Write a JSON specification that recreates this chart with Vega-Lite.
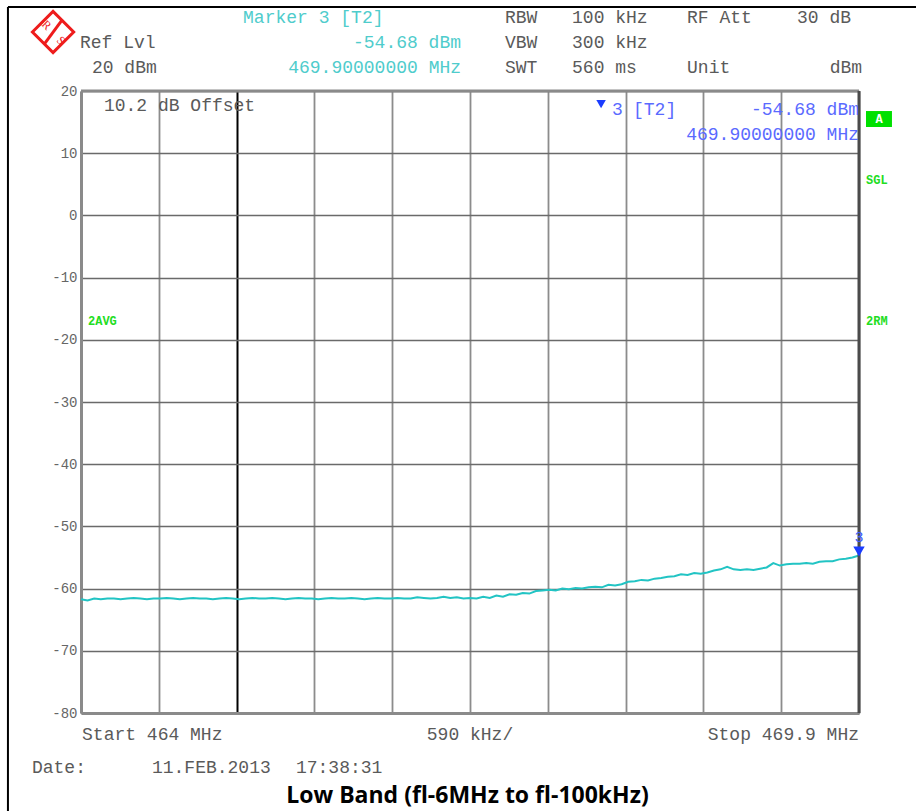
{
  "$schema": "https://vega.github.io/schema/vega-lite/v6.json",
  "width": 778,
  "height": 622,
  "autosize": {"type": "none"},
  "padding": {"left": 81, "top": 91, "right": 57, "bottom": 98},
  "background": "white",
  "config": {
    "view": {"stroke": null},
    "text": {"font": "Liberation Mono", "fontSize": 18, "baseline": "middle", "align": "left", "color": "#5a5a5a"}
  },
  "data": {"values": [{}]},
  "datasets": {
    "trace": [
      {"f": 464.00, "level": -61.7}, {"f": 464.05, "level": -61.9}, {"f": 464.10, "level": -61.6}, {"f": 464.15, "level": -61.7},
      {"f": 464.20, "level": -61.6}, {"f": 464.25, "level": -61.6}, {"f": 464.30, "level": -61.7}, {"f": 464.35, "level": -61.6},
      {"f": 464.40, "level": -61.5}, {"f": 464.45, "level": -61.6}, {"f": 464.50, "level": -61.7}, {"f": 464.55, "level": -61.6},
      {"f": 464.60, "level": -61.6}, {"f": 464.65, "level": -61.5}, {"f": 464.70, "level": -61.6}, {"f": 464.75, "level": -61.7},
      {"f": 464.80, "level": -61.6}, {"f": 464.85, "level": -61.5}, {"f": 464.90, "level": -61.6}, {"f": 464.95, "level": -61.6},
      {"f": 465.00, "level": -61.7}, {"f": 465.05, "level": -61.6}, {"f": 465.10, "level": -61.5}, {"f": 465.15, "level": -61.6},
      {"f": 465.20, "level": -61.7}, {"f": 465.25, "level": -61.6}, {"f": 465.30, "level": -61.5}, {"f": 465.35, "level": -61.6},
      {"f": 465.40, "level": -61.6}, {"f": 465.45, "level": -61.5}, {"f": 465.50, "level": -61.6}, {"f": 465.55, "level": -61.7},
      {"f": 465.60, "level": -61.6}, {"f": 465.65, "level": -61.5}, {"f": 465.70, "level": -61.6}, {"f": 465.75, "level": -61.6},
      {"f": 465.80, "level": -61.7}, {"f": 465.85, "level": -61.6}, {"f": 465.90, "level": -61.5}, {"f": 465.95, "level": -61.6},
      {"f": 466.00, "level": -61.6}, {"f": 466.05, "level": -61.5}, {"f": 466.10, "level": -61.6}, {"f": 466.15, "level": -61.7},
      {"f": 466.20, "level": -61.6}, {"f": 466.25, "level": -61.5}, {"f": 466.30, "level": -61.6}, {"f": 466.35, "level": -61.6},
      {"f": 466.40, "level": -61.5}, {"f": 466.45, "level": -61.6}, {"f": 466.50, "level": -61.6}, {"f": 466.55, "level": -61.4},
      {"f": 466.60, "level": -61.5}, {"f": 466.65, "level": -61.6}, {"f": 466.70, "level": -61.5}, {"f": 466.75, "level": -61.3},
      {"f": 466.80, "level": -61.5}, {"f": 466.85, "level": -61.4}, {"f": 466.90, "level": -61.6}, {"f": 466.95, "level": -61.5},
      {"f": 467.00, "level": -61.6}, {"f": 467.05, "level": -61.3}, {"f": 467.10, "level": -61.5}, {"f": 467.15, "level": -61.1},
      {"f": 467.20, "level": -61.3}, {"f": 467.25, "level": -60.9}, {"f": 467.30, "level": -61.0}, {"f": 467.35, "level": -60.7},
      {"f": 467.40, "level": -60.8}, {"f": 467.45, "level": -60.4}, {"f": 467.50, "level": -60.3}, {"f": 467.55, "level": -60.2},
      {"f": 467.60, "level": -60.3}, {"f": 467.65, "level": -60.0}, {"f": 467.70, "level": -60.1}, {"f": 467.75, "level": -59.9},
      {"f": 467.80, "level": -60.0}, {"f": 467.85, "level": -59.8}, {"f": 467.90, "level": -59.7}, {"f": 467.95, "level": -59.8},
      {"f": 468.00, "level": -59.4}, {"f": 468.05, "level": -59.5}, {"f": 468.10, "level": -59.3}, {"f": 468.15, "level": -58.9},
      {"f": 468.20, "level": -58.8}, {"f": 468.25, "level": -58.6}, {"f": 468.30, "level": -58.7}, {"f": 468.35, "level": -58.4},
      {"f": 468.40, "level": -58.3}, {"f": 468.45, "level": -58.1}, {"f": 468.50, "level": -58.0}, {"f": 468.55, "level": -57.7},
      {"f": 468.60, "level": -57.8}, {"f": 468.65, "level": -57.5}, {"f": 468.70, "level": -57.6}, {"f": 468.75, "level": -57.4},
      {"f": 468.80, "level": -57.1}, {"f": 468.85, "level": -56.9}, {"f": 468.90, "level": -56.5}, {"f": 468.95, "level": -56.9},
      {"f": 469.00, "level": -57.0}, {"f": 469.05, "level": -56.9}, {"f": 469.10, "level": -57.0}, {"f": 469.15, "level": -56.8},
      {"f": 469.20, "level": -56.6}, {"f": 469.25, "level": -55.9}, {"f": 469.30, "level": -56.3}, {"f": 469.35, "level": -56.1},
      {"f": 469.40, "level": -56.0}, {"f": 469.45, "level": -56.0}, {"f": 469.50, "level": -55.9}, {"f": 469.55, "level": -56.0},
      {"f": 469.60, "level": -55.7}, {"f": 469.65, "level": -55.6}, {"f": 469.70, "level": -55.6}, {"f": 469.75, "level": -55.3},
      {"f": 469.80, "level": -55.2}, {"f": 469.85, "level": -55.0}, {"f": 469.90, "level": -54.68}
    ],
    "marker": [{"f": 469.9, "level": -54.68, "name": "3"}]
  },
  "layer": [
    {
      "data": {"name": "trace"},
      "mark": {"type": "line", "color": "#22c4c4", "strokeWidth": 2, "interpolate": "linear"},
      "encoding": {
        "x": {
          "field": "f", "type": "quantitative",
          "scale": {"domain": [464, 469.9], "nice": false, "zero": false},
          "axis": {
            "values": [464, 464.59, 465.18, 465.77, 466.36, 466.95, 467.54, 468.13, 468.72, 469.31, 469.9],
            "title": null, "labels": false, "ticks": false,
            "domain": true, "domainColor": "#8a8a8a", "domainWidth": 3,
            "grid": true,
            "gridColor": {"condition": {"test": "abs(datum.value - 465.18) < 0.001", "value": "#000000"}, "value": "#8c8c8c"},
            "gridWidth": {"condition": {"test": "abs(datum.value - 465.18) < 0.001", "value": 2}, "value": 1.8},
            "gridOpacity": 1,
            "zindex": 0
          }
        },
        "y": {
          "field": "level", "type": "quantitative",
          "scale": {"domain": [-80, 20], "nice": false, "zero": false},
          "axis": {
            "values": [-80, -70, -60, -50, -40, -30, -20, -10, 0, 10, 20],
            "labelExpr": "'' + datum.value",
            "title": null, "ticks": false, "labelPadding": 4,
            "labelFont": "Liberation Mono", "labelFontSize": 14, "labelColor": "#666666",
            "domain": true, "domainColor": "#8a8a8a", "domainWidth": 3,
            "grid": true, "gridColor": "#6a6a6a", "gridWidth": 1.5, "gridOpacity": 1,
            "zindex": 0
          }
        }
      }
    },
    {"mark": {"type": "rule", "color": "#8a8a8a", "strokeWidth": 3}, "encoding": {"y": {"datum": 20}}},
    {"mark": {"type": "rule", "color": "#4a4a4a", "strokeWidth": 3}, "encoding": {"x": {"datum": 469.9}}},
    {"mark": {"type": "rule", "color": "#000000", "strokeWidth": 2}, "encoding": {"x": {"datum": 463.446}, "x2": {"datum": 470.34}, "y": {"datum": 33.5}}},
    {"mark": {"type": "rule", "color": "#000000", "strokeWidth": 2}, "encoding": {"x": {"datum": 463.446}, "y": {"datum": 33.5}, "y2": {"datum": -95.76}}},
    {
      "data": {"name": "marker"},
      "mark": {"type": "point", "shape": "triangle-down", "filled": true, "color": "#1a3cff", "size": 130, "opacity": 1, "yOffset": -4},
      "encoding": {"x": {"field": "f", "type": "quantitative"}, "y": {"field": "level", "type": "quantitative"}}
    },
    {
      "data": {"name": "marker"},
      "mark": {"type": "text", "align": "center", "fontSize": 15, "color": "#3a5cff", "dy": -19, "font": "Liberation Mono"},
      "encoding": {"x": {"field": "f", "type": "quantitative"}, "y": {"field": "level", "type": "quantitative"}, "text": {"field": "name"}}
    },
    {"mark": {"type": "point", "shape": "diamond", "filled": false, "color": "#ee1c1c", "strokeWidth": 3, "size": 1700, "opacity": 1}, "encoding": {"x": {"datum": 463.788}, "y": {"datum": 29.49}}},
    {"mark": {"type": "text", "text": "R", "align": "center", "fontSize": 12, "color": "#ee1c1c", "font": "Liberation Serif", "angle": 45}, "encoding": {"x": {"datum": 463.74}, "y": {"datum": 30.6}}},
    {"mark": {"type": "text", "text": "S", "align": "center", "fontSize": 12, "color": "#ee1c1c", "font": "Liberation Serif", "angle": 45}, "encoding": {"x": {"datum": 463.85}, "y": {"datum": 28.1}}},
    {"mark": {"type": "rule", "color": "#ee1c1c", "strokeWidth": 3}, "encoding": {"x": {"datum": 463.72}, "y": {"datum": 27.5}, "x2": {"datum": 463.86}, "y2": {"datum": 31.5}}},

    {"mark": {"type": "text", "text": "Marker 3 [T2]", "color": "#4fcccc"}, "encoding": {"x": {"datum": 465.229}, "y": {"datum": 31.74}}},
    {"mark": {"type": "text", "text": "Ref Lvl"}, "encoding": {"x": {"datum": 463.992}, "y": {"datum": 27.72}}},
    {"mark": {"type": "text", "text": "20 dBm"}, "encoding": {"x": {"datum": 464.083}, "y": {"datum": 23.70}}},
    {"mark": {"type": "text", "text": "-54.68 dBm", "align": "right", "color": "#4fcccc"}, "encoding": {"x": {"datum": 466.882}, "y": {"datum": 27.72}}},
    {"mark": {"type": "text", "text": "469.90000000 MHz", "align": "right", "color": "#4fcccc"}, "encoding": {"x": {"datum": 466.882}, "y": {"datum": 23.70}}},
    {"mark": {"type": "text", "text": "RBW"}, "encoding": {"x": {"datum": 467.215}, "y": {"datum": 31.74}}},
    {"mark": {"type": "text", "text": "100 kHz"}, "encoding": {"x": {"datum": 467.724}, "y": {"datum": 31.74}}},
    {"mark": {"type": "text", "text": "RF Att"}, "encoding": {"x": {"datum": 468.596}, "y": {"datum": 31.74}}},
    {"mark": {"type": "text", "text": "30 dB"}, "encoding": {"x": {"datum": 469.43}, "y": {"datum": 31.74}}},
    {"mark": {"type": "text", "text": "VBW"}, "encoding": {"x": {"datum": 467.215}, "y": {"datum": 27.72}}},
    {"mark": {"type": "text", "text": "300 kHz"}, "encoding": {"x": {"datum": 467.724}, "y": {"datum": 27.72}}},
    {"mark": {"type": "text", "text": "SWT"}, "encoding": {"x": {"datum": 467.215}, "y": {"datum": 23.70}}},
    {"mark": {"type": "text", "text": "560 ms"}, "encoding": {"x": {"datum": 467.724}, "y": {"datum": 23.70}}},
    {"mark": {"type": "text", "text": "Unit"}, "encoding": {"x": {"datum": 468.596}, "y": {"datum": 23.70}}},
    {"mark": {"type": "text", "text": "dBm", "align": "right"}, "encoding": {"x": {"datum": 469.923}, "y": {"datum": 23.70}}},

    {"mark": {"type": "text", "text": "10.2 dB Offset"}, "encoding": {"x": {"datum": 464.174}, "y": {"datum": 17.59}}},
    {"mark": {"type": "point", "shape": "triangle-down", "filled": true, "color": "#1a3cff", "size": 90, "opacity": 1}, "encoding": {"x": {"datum": 467.944}, "y": {"datum": 17.9}}},
    {"mark": {"type": "text", "text": "3", "color": "#5a6aff"}, "encoding": {"x": {"datum": 468.027}, "y": {"datum": 17.0}}},
    {"mark": {"type": "text", "text": "[T2]", "color": "#5a6aff"}, "encoding": {"x": {"datum": 468.186}, "y": {"datum": 17.0}}},
    {"mark": {"type": "text", "text": "-54.68 dBm", "align": "right", "color": "#5a6aff"}, "encoding": {"x": {"datum": 469.9}, "y": {"datum": 16.95}}},
    {"mark": {"type": "text", "text": "469.90000000 MHz", "align": "right", "color": "#5a6aff"}, "encoding": {"x": {"datum": 469.9}, "y": {"datum": 12.93}}},

    {"mark": {"type": "rect", "color": "#00e000"}, "encoding": {"x": {"datum": 469.953}, "x2": {"datum": 470.15}, "y": {"datum": 16.78}, "y2": {"datum": 14.21}}},
    {"mark": {"type": "text", "text": "A", "align": "center", "fontSize": 12, "fontWeight": "bold", "color": "#ffffff"}, "encoding": {"x": {"datum": 470.052}, "y": {"datum": 15.5}}},
    {"mark": {"type": "text", "text": "SGL", "fontSize": 12, "fontWeight": "bold", "color": "#22dd22"}, "encoding": {"x": {"datum": 469.953}, "y": {"datum": 5.69}}},
    {"mark": {"type": "text", "text": "2RM", "fontSize": 12, "fontWeight": "bold", "color": "#22dd22"}, "encoding": {"x": {"datum": 469.953}, "y": {"datum": -16.98}}},
    {"mark": {"type": "text", "text": "2AVG", "fontSize": 12, "fontWeight": "bold", "color": "#22dd22"}, "encoding": {"x": {"datum": 464.053}, "y": {"datum": -16.98}}},

    {"mark": {"type": "text", "text": "Start 464 MHz"}, "encoding": {"x": {"datum": 464.008}, "y": {"datum": -83.54}}},
    {"mark": {"type": "text", "text": "590 kHz/", "align": "center"}, "encoding": {"x": {"datum": 466.95}, "y": {"datum": -83.54}}},
    {"mark": {"type": "text", "text": "Stop 469.9 MHz", "align": "right"}, "encoding": {"x": {"datum": 469.9}, "y": {"datum": -83.54}}},
    {"mark": {"type": "text", "text": "Date:"}, "encoding": {"x": {"datum": 463.628}, "y": {"datum": -88.8}}},
    {"mark": {"type": "text", "text": "11.FEB.2013"}, "encoding": {"x": {"datum": 464.538}, "y": {"datum": -88.8}}},
    {"mark": {"type": "text", "text": "17:38:31"}, "encoding": {"x": {"datum": 465.63}, "y": {"datum": -88.8}}},
    {"mark": {"type": "text", "text": "Low Band (fl-6MHz to fl-100kHz)", "align": "center", "font": "Open Sans", "fontSize": 23, "fontWeight": "bold", "color": "#000000"}, "encoding": {"x": {"datum": 466.931}, "y": {"datum": -93.4}}}
  ]
}
